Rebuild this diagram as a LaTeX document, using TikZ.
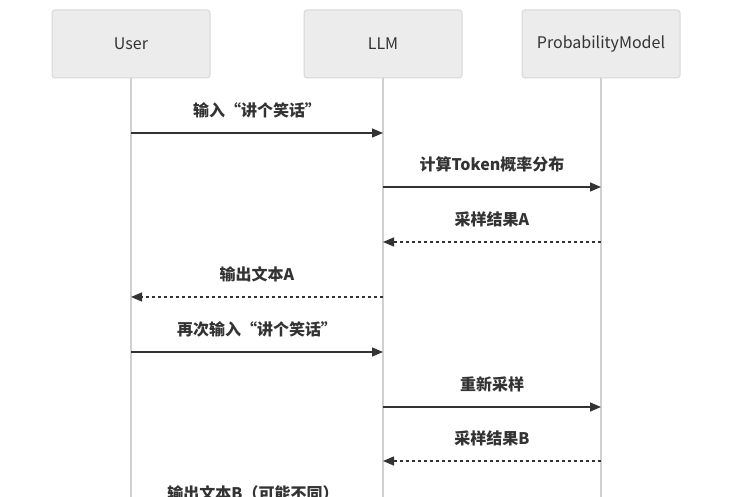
\documentclass[tikz,border=0pt]{standalone}
\usepackage{fontspec}
\setmainfont{Noto Sans CJK SC}
\usetikzlibrary{arrows.meta}
\definecolor{boxfill}{HTML}{ECECEC}
\definecolor{boxline}{HTML}{D8D8D8}
\definecolor{lifeln}{HTML}{D0D0D0}
\definecolor{ink}{HTML}{333333}
\tikzset{
  actor/.style={draw=boxline, fill=boxfill, line width=1pt, rounded corners=3pt,
    minimum width=158pt, minimum height=68pt, inner sep=0pt, text=ink,
    font=\fontsize{16}{19}\selectfont},
  life/.style={draw=lifeln, line width=2pt},
  msg/.style={draw=ink, line width=1.5pt, -{Triangle[length=11pt,width=9pt]}},
  reply/.style={msg, dash pattern=on 3pt off 3pt},
  lbl/.style={text=ink, font=\fontsize{16}{19}\selectfont\bfseries, inner sep=0pt}
}
\begin{document}
\begin{tikzpicture}[x=1pt,y=-1pt]
\useasboundingbox (0,0) rectangle (732,497);
\clip (0,0) rectangle (732,497);
\node[actor] (user) at (131,44) {User};
\node[actor] (llm) at (383,44) {LLM};
\node[actor] (pm) at (601,44) {ProbabilityModel};
\coordinate (ue) at (131,520);
\coordinate (le) at (383,520);
\coordinate (pe) at (601,520);
\begin{scope}[on background layer/.try]
\end{scope}
\draw[life] (user.south) -- (ue);
\draw[life] (llm.south) -- (le);
\draw[life] (pm.south) -- (pe);
% message points
\coordinate (u1) at (131,133); \coordinate (l1) at (383,133);
\coordinate (l2) at (383,187); \coordinate (p2) at (601,187);
\coordinate (p3) at (601,242); \coordinate (l3) at (383,242);
\coordinate (l4) at (383,297); \coordinate (u4) at (131,297);
\coordinate (u5) at (131,352); \coordinate (l5) at (383,352);
\coordinate (l6) at (383,407); \coordinate (p6) at (601,407);
\coordinate (p7) at (601,461); \coordinate (l7) at (383,461);
\draw[msg] (u1) -- (l1);
\draw[msg] (l2) -- (p2);
\draw[reply] (p3) -- (l3);
\draw[reply] (l4) -- (u4);
\draw[msg] (u5) -- (l5);
\draw[msg] (l6) -- (p6);
\draw[reply] (p7) -- (l7);
\node[lbl] (t1) at (257,110) {输入“讲个笑话”};
\node[lbl] (t2) at (492,164) {计算Token概率分布};
\node[lbl] (t3) at (492,219) {采样结果A};
\node[lbl] (t4) at (257,274) {输出文本A};
\node[lbl] (t5) at (257,329) {再次输入“讲个笑话”};
\node[lbl] (t6) at (492,384) {重新采样};
\node[lbl] (t7) at (492,438) {采样结果B};
\node[lbl] (t8) at (253,493) {输出文本B（可能不同）};
\end{tikzpicture}
\end{document}
